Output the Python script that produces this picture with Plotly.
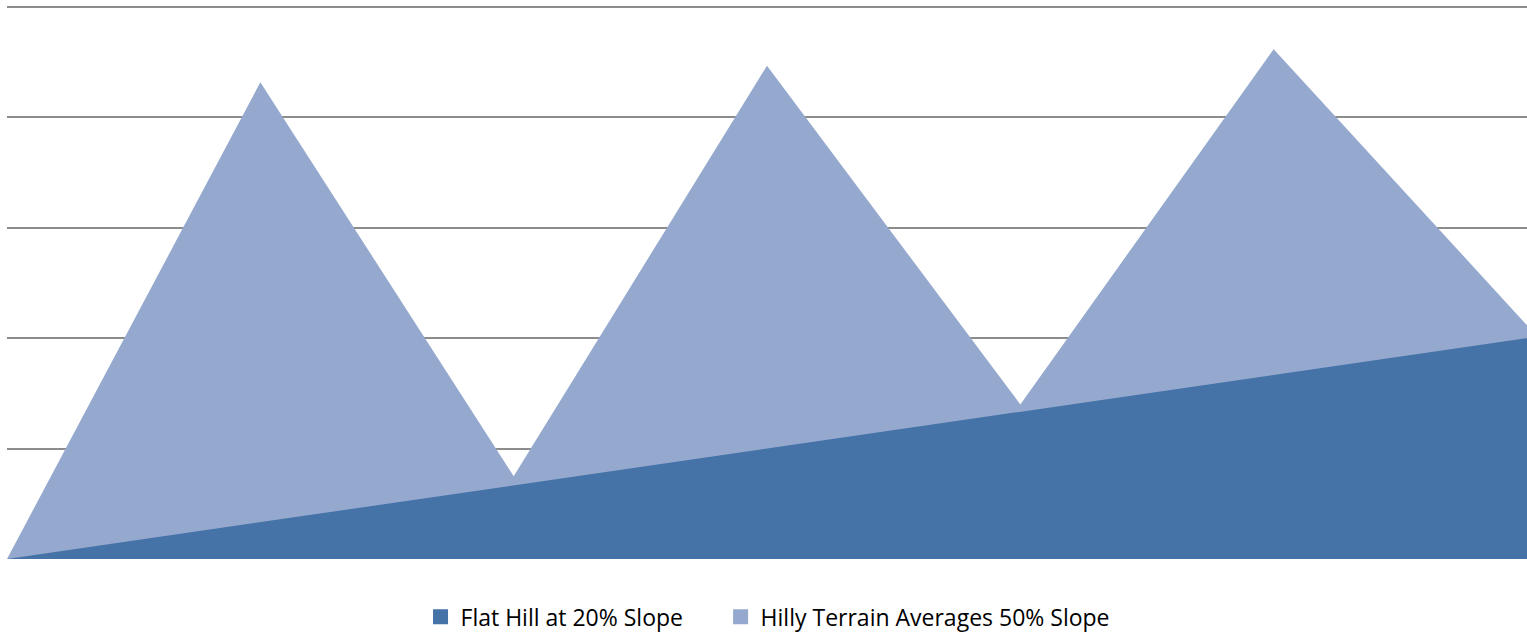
import plotly.graph_objects as go

# distance steps along the ride
distance = [0, 1, 2, 3, 4, 5, 6]
flat_hill = [0, 20, 40, 60, 80, 100, 120]
hilly_terrain = [0, 259, 45, 268, 84, 277, 127]

flat_color = "#4572A7"
hilly_color = "#95A9CF"

fig = go.Figure()

# Hilly terrain drawn first so the flat hill sits in front
fig.add_trace(
    go.Scatter(
        name="Hilly Terrain Averages 50% Slope",
        x=distance,
        y=hilly_terrain,
        mode="lines",
        fill="tozeroy",
        fillcolor=hilly_color,
        line=dict(color=hilly_color, width=0),
        showlegend=False,
    )
)

fig.add_trace(
    go.Scatter(
        name="Flat Hill at 20% Slope",
        x=distance,
        y=flat_hill,
        mode="lines",
        fill="tozeroy",
        fillcolor=flat_color,
        line=dict(color=flat_color, width=0),
        showlegend=False,
    )
)

# square legend keys, one legend each so they can be placed freely
for name, color, leg in [("Flat Hill at 20% Slope", flat_color, "legend"),
                         ("Hilly Terrain Averages 50% Slope", hilly_color, "legend2")]:
    fig.add_trace(
        go.Scatter(
            name=name,
            x=[None],
            y=[None],
            mode="markers",
            marker=dict(symbol="square", size=15, color=color),
            legend=leg,
        )
    )

legend_style = dict(
    orientation="h",
    xref="container",
    yref="container",
    xanchor="left",
    y=0.024,
    yanchor="middle",
    font=dict(family="Open Sans", size=23, color="black"),
)

fig.update_layout(
    width=1527,
    height=632,
    margin=dict(l=7, r=0, t=5, b=73),
    paper_bgcolor="white",
    plot_bgcolor="white",
    font=dict(family="Open Sans", size=23, color="black"),
    showlegend=True,
    legend=dict(x=0.2754, **legend_style),
    legend2=dict(x=0.4719, **legend_style),
    xaxis=dict(
        range=[0, 6],
        showgrid=False,
        zeroline=False,
        showticklabels=False,
        showline=False,
    ),
    yaxis=dict(
        range=[0, 301],
        dtick=60,
        showgrid=True,
        gridcolor="#8C8C8C",
        gridwidth=1.5,
        zeroline=False,
        showticklabels=False,
        showline=False,
    ),
)

fig.write_html(
    "out.html",
    config={"displayModeBar": False},
    post_script="document.body.style.margin='0';",
)
